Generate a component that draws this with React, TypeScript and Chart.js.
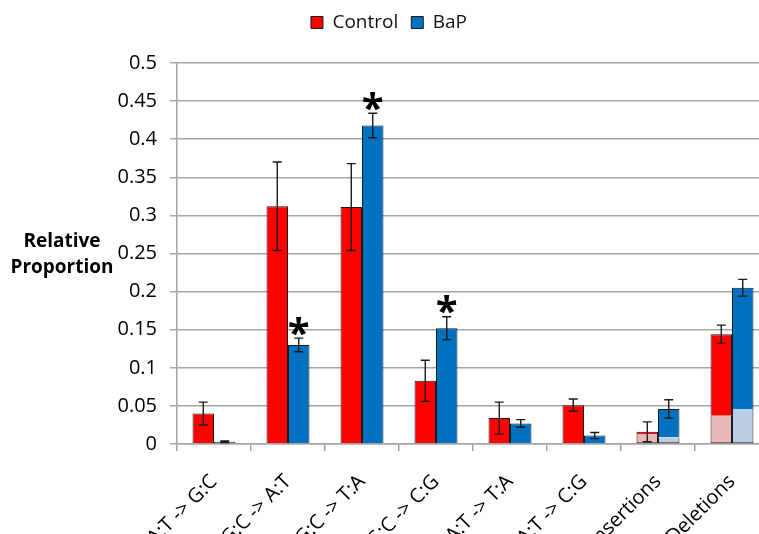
import React, { useEffect, useRef } from 'react';
import { Chart, registerables } from 'chart.js';
Chart.register(...registerables);

const categories = ['A:T -> G:C', 'G:C -> A:T', 'G:C -> T:A', 'G:C -> C:G', 'A:T -> T:A', 'A:T -> C:G', 'Insertions', 'Deletions'];
const controlValues = [0.040, 0.312, 0.311, 0.083, 0.034, 0.051, 0.016, 0.144];
const controlErrors = [0.015, 0.058, 0.057, 0.027, 0.021, 0.008, 0.013, 0.012];
const controlLight = [null, null, null, null, null, null, 0.013, 0.037];
const bapValues = [0.003, 0.130, 0.418, 0.152, 0.027, 0.011, 0.046, 0.205];
const bapErrors = [0.001, 0.009, 0.016, 0.015, 0.005, 0.004, 0.012, 0.011];
const bapLight = [null, null, null, null, null, null, 0.009, 0.046];
const bapSignificant = [false, true, true, true, false, false, false, false];
const yTicks = [0, 0.05, 0.1, 0.15, 0.2, 0.25, 0.3, 0.35, 0.4, 0.45, 0.5];
const yTitleLines = ['Relative', 'Proportion'];

const FONT = "'Open Sans', sans-serif";
const GRID = '#a6a6a6';

export default function App() {
  const ref = useRef<HTMLCanvasElement>(null);
  useEffect(() => {
    const canvas = ref.current;
    if (!canvas) return;
    const controlDark = controlValues.map((v, i) => v - (controlLight[i] ?? 0));
    const bapDark = bapValues.map((v, i) => v - (bapLight[i] ?? 0));

    const extras = {
      id: 'extras',
      beforeInit(chart: any) {
        if (chart.legend) {
          const orig = chart.legend.fit;
          chart.legend.fit = function () {
            orig.call(this);
            this.height = 63;
          };
        }
      },
      afterDatasetsDraw(chart: any) {
        const ctx = chart.ctx;
        const y = chart.scales.y;
        const groups: [number, number[], number[]][] = [
          [2, controlValues, controlErrors],
          [3, bapValues, bapErrors],
        ];
        ctx.save();
        ctx.strokeStyle = '#1a1a1a';
        ctx.lineWidth = 1.4;
        groups.forEach(([di, vals, errs]) => {
          const meta = chart.getDatasetMeta(di);
          meta.data.forEach((el: any, i: number) => {
            const x = el.x;
            const t = y.getPixelForValue(vals[i] + errs[i]);
            const b = y.getPixelForValue(vals[i] - errs[i]);
            ctx.beginPath();
            ctx.moveTo(x, t);
            ctx.lineTo(x, b);
            ctx.moveTo(x - 4.5, t);
            ctx.lineTo(x + 4.5, t);
            ctx.moveTo(x - 4.5, b);
            ctx.lineTo(x + 4.5, b);
            ctx.stroke();
          });
        });
        const meta = chart.getDatasetMeta(3);
        ctx.fillStyle = '#000';
        ctx.font = `bold 40px ${FONT}`;
        ctx.textAlign = 'center';
        ctx.textBaseline = 'alphabetic';
        const m = ctx.measureText('*');
        const off = (m.actualBoundingBoxAscent - m.actualBoundingBoxDescent) / 2;
        meta.data.forEach((el: any, i: number) => {
          if (!bapSignificant[i]) return;
          const t = y.getPixelForValue(bapValues[i] + bapErrors[i]);
          const cy = t - 12;
          ctx.fillText('*', el.x, cy + off);
        });
        ctx.restore();
      },
      afterDraw(chart: any) {
        const ctx = chart.ctx;
        ctx.save();
        ctx.fillStyle = '#000';
        ctx.font = `bold 19px ${FONT}`;
        ctx.textAlign = 'center';
        ctx.textBaseline = 'middle';
        ctx.fillText(yTitleLines[0], 62, 242);
        ctx.fillText(yTitleLines[1], 62, 268);
        ctx.restore();
      },
    };

    const chart = new Chart(canvas, {
      type: 'bar',
      data: {
        labels: categories,
        datasets: [
          {
            label: 'Control (light)',
            data: controlLight as any,
            stack: 'c',
            backgroundColor: '#e6b9b8',
            borderColor: '#1a1a1a',
            borderWidth: 1,
            borderSkipped: 'top',
          },
          {
            label: 'BaP (light)',
            data: bapLight as any,
            stack: 'b',
            backgroundColor: '#b9cde5',
            borderColor: '#1a1a1a',
            borderWidth: 1,
            borderSkipped: 'top',
          },
          {
            label: 'Control',
            data: controlDark,
            stack: 'c',
            backgroundColor: '#ff0000',
            borderColor: '#1a1a1a',
            borderWidth: 1,
            borderSkipped: 'bottom',
          },
          {
            label: 'BaP',
            data: bapDark,
            stack: 'b',
            backgroundColor: '#0070c0',
            borderColor: '#1a1a1a',
            borderWidth: 1,
            borderSkipped: 'bottom',
          },
        ],
      },
      options: {
        responsive: true,
        maintainAspectRatio: false,
        animation: false,
        datasets: { bar: { categoryPercentage: 0.58, barPercentage: 1 } },
        layout: { padding: { left: 9, right: 11, top: 0, bottom: 0 } },
        plugins: {
          tooltip: { enabled: false },
          legend: {
            position: 'top',
            labels: {
              boxWidth: 12,
              boxHeight: 12,
              padding: 13,
              color: '#111',
              font: { family: FONT, size: 19 },
              filter: (item: any) => !item.text.includes('light'),
            },
          },
        },
        scales: {
          x: {
            stacked: true,
            afterFit: (s: any) => { s.height = 90; },
            grid: { display: true, drawOnChartArea: false, offset: true, color: GRID, tickLength: 7, lineWidth: 1.5 },
            border: { color: GRID, width: 1.5 },
            ticks: {
              autoSkip: false,
              maxRotation: 45,
              minRotation: 45,
              color: '#000',
              font: { family: FONT, size: 20 },
              padding: 19,
              labelOffset: 0,
            },
          },
          y: {
            stacked: true,
            min: 0,
            max: 0.5,
            afterFit: (s: any) => { s.width = 168; },
            afterBuildTicks: (s: any) => { s.ticks = yTicks.map((v) => ({ value: v })); },
            grid: { color: GRID, tickLength: 7, lineWidth: 1.5 },
            border: { color: GRID, width: 1.5 },
            ticks: {
              color: '#000',
              padding: 13,
              font: { family: FONT, size: 20 },
              callback: (v: any) => String(Number(v)),
            },
          },
        },
      },
      plugins: [extras],
    } as any);
    return () => chart.destroy();
  }, []);

  return (
    <div style={{ position: 'fixed', left: 0, top: 0, width: 759, height: 534, overflow: 'hidden', background: '#fff' }}>
      <div style={{ position: 'relative', width: 780, height: 534 }}>
        <canvas ref={ref} />
      </div>
    </div>
  );
}
